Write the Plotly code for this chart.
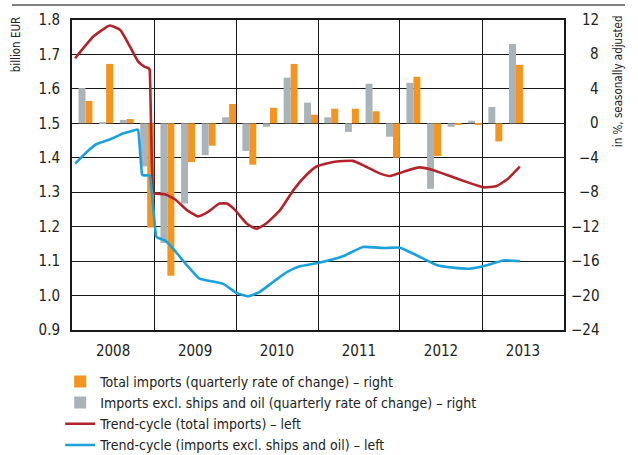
import plotly.graph_objects as go

# ---------------- data ----------------
quarters = ["2008Q1","2008Q2","2008Q3","2008Q4","2009Q1","2009Q2","2009Q3","2009Q4",
            "2010Q1","2010Q2","2010Q3","2010Q4","2011Q1","2011Q2","2011Q3","2011Q4",
            "2012Q1","2012Q2","2012Q3","2012Q4","2013Q1","2013Q2"]
total_imports_qoq = [2.6, 6.9, 0.5, -12.1, -17.7, -4.5, -2.6, 2.25, -4.8, 1.8, 6.9, 1.0,
                     1.7, 1.7, 1.4, -4.0, 5.4, -3.8, -0.1, -0.1, -2.1, 6.8]
excl_ships_oil_qoq = [4.1, 0.05, 0.4, -5.0, -13.9, -9.3, -3.7, 0.7, -3.2, -0.4, 5.3, 2.4,
                      0.7, -1.0, 4.6, -1.55, 4.7, -7.6, -0.4, 0.3, 1.9, 9.2]

trend_total_dates = ["2008-01-15","2008-04-05","2008-06-17","2008-08-03","2008-09-16","2008-10-22",
                     "2008-11-20","2008-12-08","2008-12-12","2008-12-28","2009-01-06","2009-02-18",
                     "2009-04-05","2009-05-27",
                     "2009-07-16","2009-08-29","2009-10-19","2009-11-21","2009-12-28","2010-02-17",
                     "2010-04-01","2010-05-15","2010-07-16","2010-09-13","2010-11-10","2010-12-24",
                     "2011-03-10","2011-06-06","2011-08-03","2011-10-05","2011-11-18","2012-01-15",
                     "2012-03-28","2012-05-30","2012-08-11","2012-10-23","2013-01-08","2013-03-07",
                     "2013-04-28","2013-06-18"]
trend_total = [1.689, 1.752, 1.784, 1.771, 1.722, 1.679, 1.664, 1.660, 1.655, 1.300, 1.296, 1.294,
               1.279, 1.248,
               1.230, 1.243, 1.267, 1.267, 1.248, 1.209, 1.194, 1.209, 1.248, 1.306, 1.350, 1.374,
               1.388, 1.391, 1.374, 1.354, 1.347, 1.359, 1.372, 1.364, 1.347, 1.330, 1.314, 1.318,
               1.340, 1.374]

trend_excl_dates = ["2008-01-15","2008-03-07","2008-04-20","2008-06-17","2008-08-18","2008-10-18",
                    "2008-10-22","2008-11-08","2008-11-12","2008-12-08","2008-12-14","2009-01-10",
                    "2009-01-16","2009-02-18","2009-03-28","2009-05-27",
                    "2009-07-22","2009-09-20","2009-11-05","2010-01-05","2010-02-25","2010-04-15",
                    "2010-06-18","2010-08-15","2010-10-12","2011-01-05","2011-04-22","2011-07-20",
                    "2011-10-20","2012-01-01","2012-03-15","2012-06-15","2012-08-25","2012-11-05",
                    "2013-01-22","2013-04-05","2013-06-18"]
trend_excl = [1.383, 1.417, 1.440, 1.453, 1.471, 1.482, 1.480, 1.352, 1.349, 1.349, 1.345, 1.172,
              1.168, 1.160, 1.135, 1.088,
              1.049, 1.041, 1.034, 1.007, 0.998, 1.010, 1.041, 1.068, 1.085, 1.095, 1.114, 1.141,
              1.138, 1.139, 1.117, 1.088, 1.081, 1.078, 1.088, 1.102, 1.100]

left_ticks = [0.9, 1.0, 1.1, 1.2, 1.3, 1.4, 1.5, 1.6, 1.7, 1.8]
right_ticks = [-24, -20, -16, -12, -8, -4, 0, 4, 8, 12]
right_tick_labels = ["\u221224", "\u221220", "\u221216", "\u221212", "\u22128", "\u22124", "0", "4", "8", "12"]

# ---------------- styling ----------------
ORANGE = "#F5941E"
GRAY = "#A9B3B8"
RED = "#B4232C"
BLUE = "#1BA1DC"
FONT = "Liberation Sans Narrow, Arial Narrow, DejaVu Sans Condensed, sans-serif"

bar_x = [f"{q[:4]}-{3*int(q[-1]):02d}-01" for q in quarters]
bar_w = 31 * 24 * 3600 * 1000  # ms

fig = go.Figure()
fig.add_trace(go.Bar(x=bar_x, y=total_imports_qoq, name="Total imports (quarterly rate of change) \u2013 right",
                     marker=dict(color=ORANGE, line=dict(width=0)), width=bar_w, offset=0,
                     xaxis="x", yaxis="y"))
fig.add_trace(go.Bar(x=bar_x, y=excl_ships_oil_qoq,
                     name="Imports excl. ships and oil (quarterly rate of change) \u2013 right",
                     marker=dict(color=GRAY, line=dict(width=0)), width=bar_w, offset=-bar_w,
                     xaxis="x", yaxis="y"))
fig.add_trace(go.Scatter(x=trend_total_dates, y=trend_total, mode="lines",
                         name="Trend-cycle (total imports) \u2013 left",
                         line=dict(color=RED, width=2.6, shape="spline", smoothing=0.4),
                         xaxis="x", yaxis="y2"))
fig.add_trace(go.Scatter(x=trend_excl_dates, y=trend_excl, mode="lines",
                         name="Trend-cycle (imports excl. ships and oil) \u2013 left",
                         line=dict(color=BLUE, width=2.6, shape="spline", smoothing=0.4),
                         xaxis="x", yaxis="y2"))

annotations = []
for v, t in zip(right_ticks, right_tick_labels):
    annotations.append(dict(x=1.0752, xref="paper", y=v, yref="y", text=t, showarrow=False,
                            xanchor="right", yanchor="middle", font=dict(size=15, color="#222")))
annotations.append(dict(x=-0.112, xref="paper", y=1.018, yref="paper", text="billion EUR",
                        textangle=-90, showarrow=False, xanchor="center", yanchor="top",
                        font=dict(size=11.5, color="#222")))
annotations.append(dict(x=1.1098, xref="paper", y=1.022, yref="paper", text="in %, seasonally adjusted",
                        textangle=-90, showarrow=False, xanchor="center", yanchor="top",
                        font=dict(size=11.5, color="#222")))

fig.update_layout(
    width=638, height=455,
    margin=dict(l=72, r=74, t=20, b=125, autoexpand=False),
    paper_bgcolor="white", plot_bgcolor="white",
    font=dict(family=FONT, size=15, color="#222"),
    barmode="overlay",
    showlegend=True,
    legend=dict(x=-0.024, y=0.196, yref="container", xanchor="left", yanchor="top", orientation="v",
                font=dict(size=14, color="#222"), bgcolor="rgba(0,0,0,0)",
                tracegroupgap=0, itemwidth=30),
    xaxis=dict(type="date", range=["2008-01-01", "2014-01-01"], dtick="M12", tick0="2008-01-01",
               ticklabelmode="period", tickformat="%Y", showgrid=True, gridcolor="#1a1a1a",
               gridwidth=1.3, showline=True, linecolor="#1a1a1a", linewidth=1.5, mirror=True,
               ticks="outside", ticklen=6, tickcolor="rgba(0,0,0,0)", zeroline=False),
    yaxis=dict(range=[-24, 12], tickvals=right_ticks, side="right", showticklabels=False,
               showgrid=True, gridcolor="#1a1a1a", gridwidth=1.3, zeroline=False,
               showline=True, linecolor="#1a1a1a", linewidth=1.5, mirror=True, ticks=""),
    yaxis2=dict(range=[0.9, 1.8], tickvals=left_ticks, tickformat=".1f", side="left",
                overlaying="y", showgrid=False, zeroline=False, showline=False,
                ticks="outside", ticklen=8, tickcolor="rgba(0,0,0,0)"),
    annotations=annotations,
    shapes=[dict(type="line", xref="paper", yref="paper", x0=-0.122, x1=1.124, y0=1.048, y1=1.048,
                 line=dict(color="#808080", width=2))],
)

fig.write_html("out.html", config={"displayModeBar": False},
               post_script="document.body.style.margin='0';")
